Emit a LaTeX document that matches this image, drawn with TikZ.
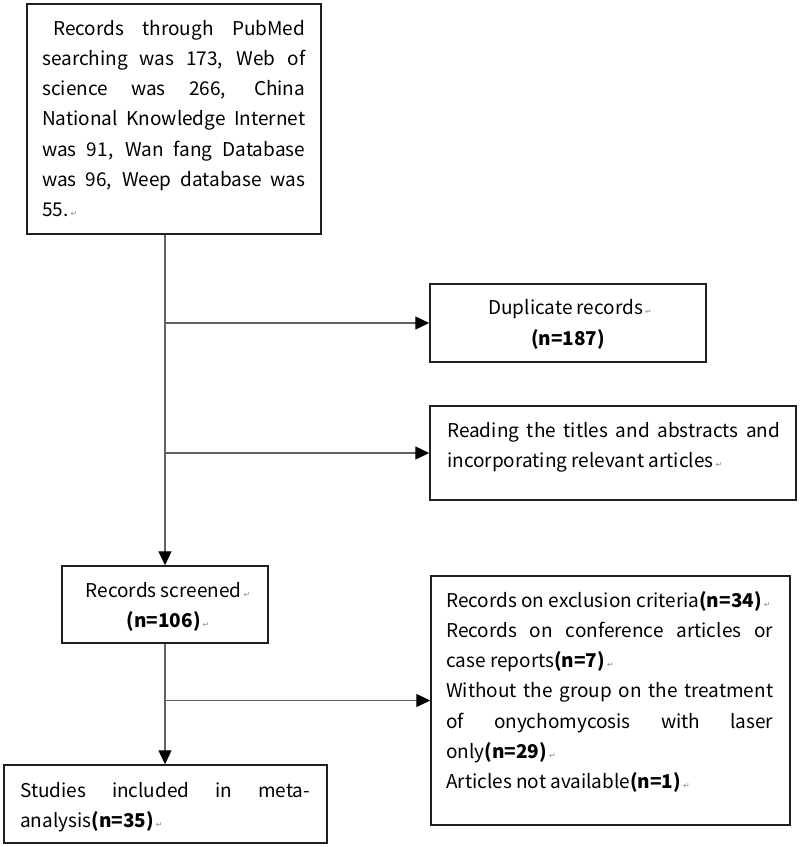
\documentclass[tikz,border=0pt]{standalone}
\usepackage{fontspec}
\setmainfont{Noto Sans CJK SC}
\newfontfamily\symfont{DejaVu Sans}
\usetikzlibrary{arrows.meta}
\newcommand\parmark{\kern2pt{\symfont\fontsize{8}{8}\selectfont\textcolor{black!45}{↵}}}
\newcommand\jline[2]{\hbox{\makebox[#1pt][s]{#2}}}
\newcommand\rline[1]{\hbox{#1}}
\newcommand\lines[1]{\vtop{\baselineskip=30.3pt\lineskiplimit=-10pt #1}}
\tikzset{
  box/.style={draw=black!88, line width=1.5pt, rectangle, inner sep=0pt, fill=white},
  txt/.style={inner sep=0pt, anchor=base west, font=\fontsize{19}{22}\selectfont},
  ctxt/.style={inner sep=0pt, anchor=base, font=\fontsize{19}{22}\selectfont},
  conn/.style={draw=black!62, line width=1.4pt},
  arr/.style={conn, -{Triangle[length=14pt,width=13pt,color=black]}}
}
\begin{document}
\begin{tikzpicture}[x=1pt,y=-1pt]
\useasboundingbox (0,0) rectangle (800,847);
% boxes
\node[box, minimum width=294pt, minimum height=230pt] (b1) at (174,119) {};
\node[box, minimum width=276pt, minimum height=78pt] (dup) at (568,323) {};
\node[box, minimum width=366pt, minimum height=94pt] (rd) at (613,453) {};
\node[box, minimum width=206pt, minimum height=77pt] (scr) at (165,604.5) {};
\node[box, minimum width=359pt, minimum height=249pt] (exc) at (610.5,700.5) {};
\node[box, minimum width=323pt, minimum height=78pt] (stu) at (165.5,804) {};
% texts
\node[txt] (b1t) at (42,35) {\lines{%
  \jline{263}{\hspace{11pt}Records through PubMed}
  \jline{263}{searching was 173, Web of}
  \jline{263}{science was 266, China}
  \jline{263}{National Knowledge Internet}
  \jline{263}{was 91, Wan fang Database}
  \jline{263}{was 96, Weep database was}
  \rline{55.\parmark}}};
\node[ctxt] (dupt1) at (570,314) {Duplicate records\parmark};
\node[ctxt] (dupt2) at (568,345) {\textbf{(n=187)}};
\node[txt] (rdt) at (447,437) {\lines{%
  \jline{333}{Reading the titles and abstracts and}
  \rline{incorporating relevant articles\parmark}}};
\node[ctxt] (scrt1) at (168,597) {Records screened\parmark};
\node[ctxt] (scrt2) at (168,627) {\textbf{(n=106)}\parmark};
\node[txt] (exct) at (446,607) {\lines{%
  \rline{Records on exclusion criteria\textbf{(n=34)}\parmark}
  \jline{327}{Records on conference articles or}
  \rline{case reports\textbf{(n=7)}\parmark}
  \jline{327}{Without the group on the treatment}
  \jline{327}{of onychomycosis with laser}
  \rline{only\textbf{(n=29)}\parmark}
  \rline{Articles not available\textbf{(n=1)}\parmark}}};
\node[txt] (stut) at (20,797) {\lines{%
  \jline{290}{Studies included in meta-}
  \rline{analysis\textbf{(n=35)}\parmark}}};
% connectors
\draw[arr] (b1.south -| scr.north) -- (scr.north);
\draw[arr] (dup.west -| scr.north) -- (dup.west);
\draw[arr] (rd.west -| scr.north) -- (rd.west);
\draw[arr] (scr.south) -- (stu.north -| scr.south);
\draw[arr] (exc.west -| scr.south) -- (exc.west);
\end{tikzpicture}
\end{document}
